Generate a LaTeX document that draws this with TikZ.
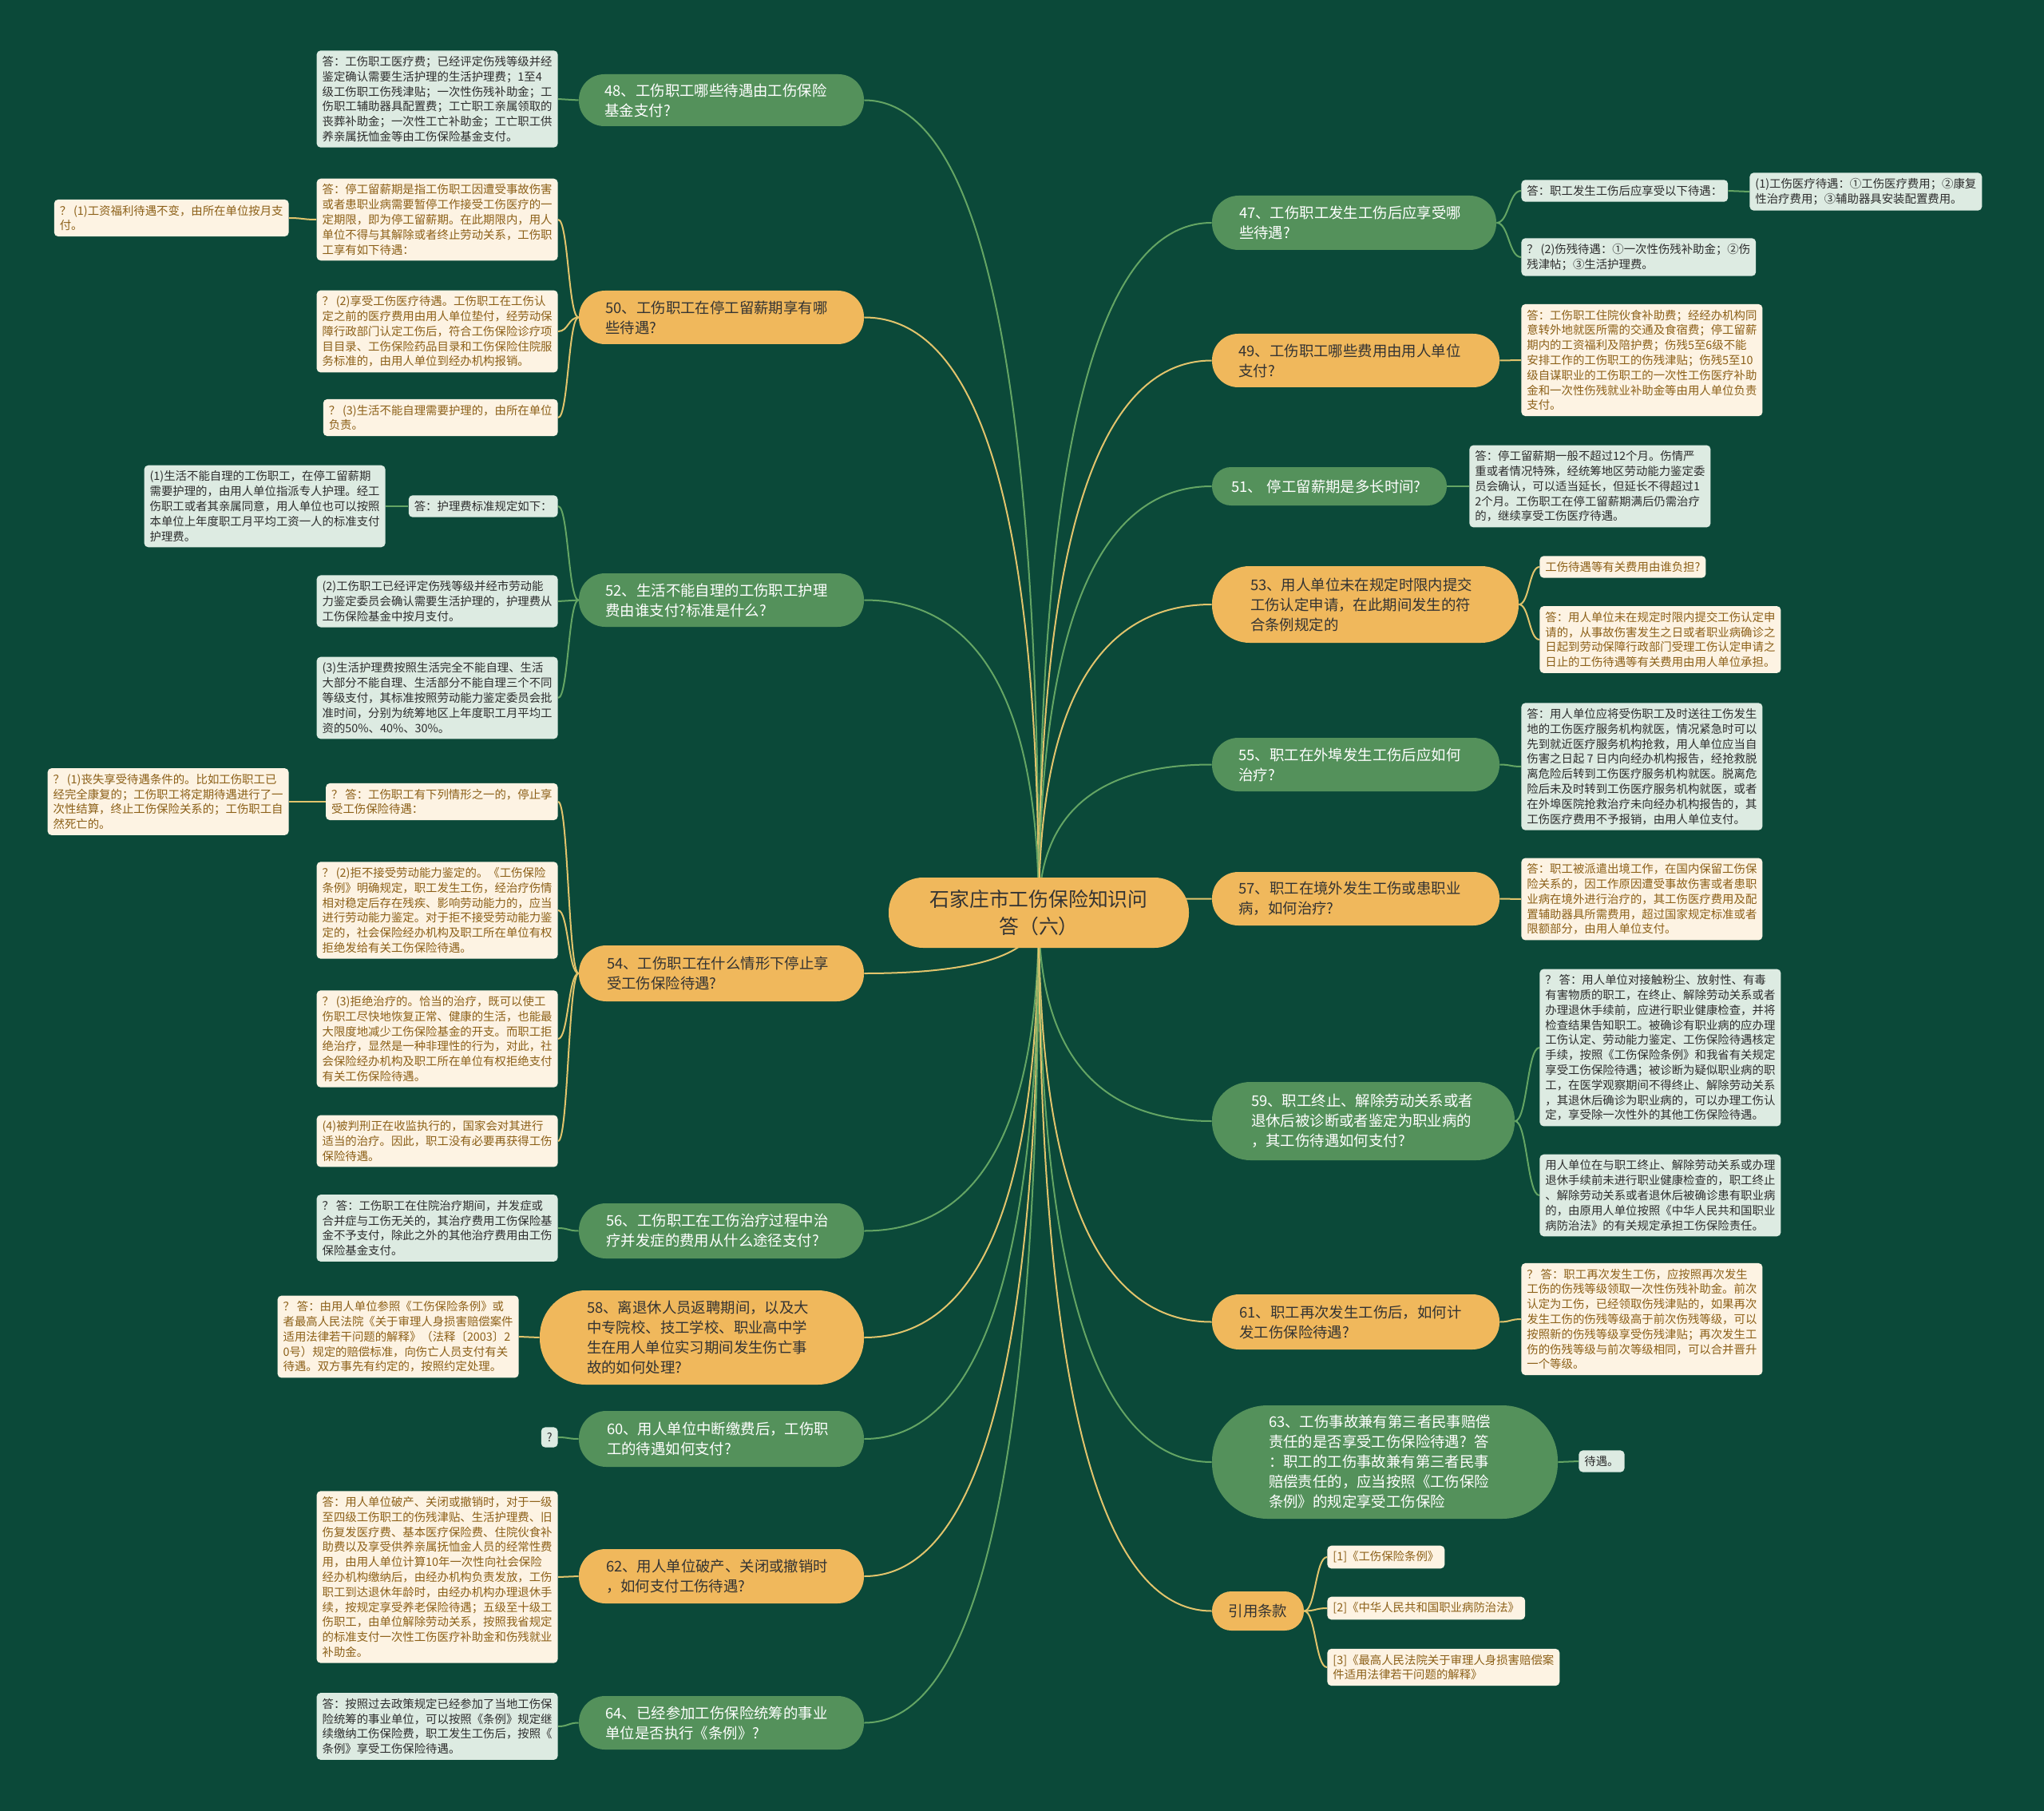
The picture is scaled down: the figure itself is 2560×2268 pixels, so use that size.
\documentclass[tikz,border=0pt]{standalone}
\usepackage{fontspec}
\setmainfont{Noto Sans CJK SC}
\usetikzlibrary{calc}
\definecolor{bgc}{RGB}{11,73,57}
\definecolor{pillgreen}{RGB}{84,145,91}
\definecolor{pillorange}{RGB}{240,184,92}
\definecolor{pilltext}{RGB}{51,51,51}
\definecolor{linegreen}{RGB}{100,165,100}
\definecolor{lineyellow}{RGB}{226,196,108}
\definecolor{leafgreen}{RGB}{221,235,226}
\definecolor{leafgtext}{RGB}{45,45,45}
\definecolor{leafcream}{RGB}{253,243,227}
\definecolor{leafctext}{RGB}{140,96,24}
\newcommand\leaffont{\fontsize{7.2}{9.4}\selectfont}
\newcommand\pillfont{\fontsize{9.2}{12.5}\selectfont}
\newcommand\rootfont{\fontsize{12.4}{17}\selectfont}
\newcommand\qm{？\hspace{0.2em}}
\pgfdeclarelayer{background}
\pgfsetlayers{background,main}
\tikzset{
  lg/.style={fill=leafgreen, text=leafgtext, rounded corners=2.5pt, inner xsep=3.5pt, inner ysep=3.5pt, align=left, font=\leaffont},
  lc/.style={fill=leafcream, text=leafctext, rounded corners=2.5pt, inner xsep=3.5pt, inner ysep=3.5pt, align=left, font=\leaffont},
  onL/.style={anchor=east},
  onR/.style={anchor=west},
  gp/.style={fill=pillgreen, text=white, inner sep=0pt, align=left, font=\pillfont},
  op/.style={fill=pillorange, text=pilltext, inner sep=0pt, align=left, font=\pillfont},
  gl/.style={draw=linegreen, line width=1pt},
  yl/.style={draw=lineyellow, line width=1pt},
}
\newcommand\mmpill[7]{%
  \pgfmathsetmacro\mmw{(#5-#3)*0.5}%
  \pgfmathsetmacro\mmh{(#6-#4)*0.5}%
  \pgfmathsetmacro\mmt{(#5-#3-#6+#4)*0.5}%
  \pgfmathsetmacro\mmr{(#6-#4)*0.245}%
  \pgfmathsetmacro\mmx{(#3+#5)/2}%
  \pgfmathsetmacro\mmy{(#4+#6)/2}%
  \node[#1, minimum width=\mmw pt, minimum height=\mmh pt, text width=\mmt pt, rounded corners=\mmr pt] (#2) at (\mmx,\mmy) {#7};%
}
\newcommand\rootlink[2]{%
  \path (root.center |- #2) coordinate (mmc);%
  \draw[#1] (root.center) .. controls ($(root.center)!0.667!(mmc)$) and ($(#2)!0.667!(mmc)$) .. (#2);%
}
\newcommand\brL[3]{%
  \path ($(#2.west)!0.5!(#3.east)$) coordinate (mmm);%
  \draw[#1] (#2.west) .. controls (mmm |- #2.west) and (mmm |- #3.east) .. (#3.east);%
}
\newcommand\brR[3]{%
  \path ($(#2.east)!0.5!(#3.west)$) coordinate (mmm);%
  \draw[#1] (#2.east) .. controls (mmm |- #2.east) and (mmm |- #3.west) .. (#3.west);%
}
\begin{document}
\begin{tikzpicture}[x=0.5pt,y=-0.5pt]
\useasboundingbox (0,0) rectangle (2560,2268);
\begin{pgfonlayer}{background}
\fill[bgc] (0,0) rectangle (2560,2268);
\end{pgfonlayer}

% root
\node[fill=pillorange, text=pilltext, font=\rootfont, align=center, minimum width=188pt, minimum height=44pt, rounded corners=21.5pt, inner sep=0pt] (root) at (1301,1143) {石家庄市工伤保险知识问\\答（六）};

% left branches
\mmpill{gp}{b48}{725}{93}{1082}{158}{48、工伤职工哪些待遇由工伤保险\\基金支付?}
\mmpill{op}{b50}{725}{364}{1082}{431}{50、工伤职工在停工留薪期享有哪\\些待遇?}
\mmpill{gp}{b52}{725}{718}{1082}{785}{52、生活不能自理的工伤职工护理\\费由谁支付?标准是什么?}
\mmpill{op}{b54}{725}{1184}{1082}{1254}{54、工伤职工在什么情形下停止享\\受工伤保险待遇?}
\mmpill{gp}{b56}{725}{1507}{1082}{1576}{56、工伤职工在工伤治疗过程中治\\疗并发症的费用从什么途径支付?}
\mmpill{op}{b58}{676}{1616}{1082}{1734}{58、离退休人员返聘期间，以及大\\中专院校、技工学校、职业高中学\\生在用人单位实习期间发生伤亡事\\故的如何处理?}
\mmpill{gp}{b60}{725}{1767}{1082}{1837}{60、用人单位中断缴费后，工伤职\\工的待遇如何支付?}
\mmpill{op}{b62}{725}{1940}{1082}{2008}{62、用人单位破产、关闭或撤销时\\，如何支付工伤待遇?}
\mmpill{gp}{b64}{725}{2124}{1082}{2191}{64、已经参加工伤保险统筹的事业\\单位是否执行《条例》?}

% right branches
\mmpill{gp}{b47}{1518}{245}{1874}{313}{47、工伤职工发生工伤后应享受哪\\些待遇?}
\mmpill{op}{b49}{1518}{418}{1878}{485}{49、工伤职工哪些费用由用人单位\\支付?}
\mmpill{gp}{b51}{1518}{585}{1812}{633}{51、 停工留薪期是多长时间?}
\mmpill{op}{b53}{1518}{709}{1902}{805}{53、用人单位未在规定时限内提交\\工伤认定申请，在此期间发生的符\\合条例规定的}
\mmpill{gp}{b55}{1518}{924}{1878}{991}{55、职工在外埠发生工伤后应如何\\治疗?}
\mmpill{op}{b57}{1518}{1092}{1878}{1159}{57、职工在境外发生工伤或患职业\\病，如何治疗?}
\mmpill{gp}{b59}{1518}{1355}{1897}{1453}{59、职工终止、解除劳动关系或者\\退休后被诊断或者鉴定为职业病的\\，其工伤待遇如何支付?}
\mmpill{op}{b61}{1518}{1621}{1878}{1690}{61、职工再次发生工伤后，如何计\\发工伤保险待遇?}
\mmpill{gp}{b63}{1518}{1760}{1951}{1902}{63、工伤事故兼有第三者民事赔偿\\责任的是否享受工伤保险待遇? 答\\：职工的工伤事故兼有第三者民事\\赔偿责任的，应当按照《工伤保险\\条例》的规定享受工伤保险}
\node[op, align=center, minimum width=57.5pt, minimum height=24.5pt, rounded corners=12pt] (cite) at (1575.5,2017.5) {引用条款};

% left leaves
\node[lg,onL] (l48a) at (699,124) {答：工伤职工医疗费；已经评定伤残等级并经\\鉴定确认需要生活护理的生活护理费；1至4\\级工伤职工伤残津贴；一次性伤残补助金；工\\伤职工辅助器具配置费；工亡职工亲属领取的\\丧葬补助金；一次性工亡补助金；工亡职工供\\养亲属抚恤金等由工伤保险基金支付。};
\node[lc,onL] (l50a) at (699,275) {答：停工留薪期是指工伤职工因遭受事故伤害\\或者患职业病需要暂停工作接受工伤医疗的一\\定期限，即为停工留薪期。在此期限内，用人\\单位不得与其解除或者终止劳动关系，工伤职\\工享有如下待遇：};
\node[lc,onL] (l50ac) at (362,273) {\qm(1)工资福利待遇不变，由所在单位按月支\\付。};
\node[lc,onL] (l50b) at (699,415) {\qm(2)享受工伤医疗待遇。工伤职工在工伤认\\定之前的医疗费用由用人单位垫付，经劳动保\\障行政部门认定工伤后，符合工伤保险诊疗项\\目目录、工伤保险药品目录和工伤保险住院服\\务标准的，由用人单位到经办机构报销。};
\node[lc,onL] (l50c) at (699,523) {\qm(3)生活不能自理需要护理的，由所在单位\\负责。};
\node[lg,onL] (l52a) at (699,634) {答：护理费标准规定如下：};
\node[lg,onL] (l52ac) at (483,634) {(1)生活不能自理的工伤职工，在停工留薪期\\需要护理的，由用人单位指派专人护理。经工\\伤职工或者其亲属同意，用人单位也可以按照\\本单位上年度职工月平均工资一人的标准支付\\护理费。};
\node[lg,onL] (l52b) at (699,753) {(2)工伤职工已经评定伤残等级并经市劳动能\\力鉴定委员会确认需要生活护理的，护理费从\\工伤保险基金中按月支付。};
\node[lg,onL] (l52c) at (699,874) {(3)生活护理费按照生活完全不能自理、生活\\大部分不能自理、生活部分不能自理三个不同\\等级支付，其标准按照劳动能力鉴定委员会批\\准时间，分别为统筹地区上年度职工月平均工\\资的50\%、40\%、30\%。};
\node[lc,onL] (l54a) at (699,1004) {\qm 答：工伤职工有下列情形之一的，停止享\\受工伤保险待遇：};
\node[lc,onL] (l54ac) at (362,1004) {\qm(1)丧失享受待遇条件的。比如工伤职工已\\经完全康复的；工伤职工将定期待遇进行了一\\次性结算，终止工伤保险关系的；工伤职工自\\然死亡的。};
\node[lc,onL] (l54b) at (699,1140) {\qm(2)拒不接受劳动能力鉴定的。《工伤保险\\条例》明确规定，职工发生工伤，经治疗伤情\\相对稳定后存在残疾、影响劳动能力的，应当\\进行劳动能力鉴定。对于拒不接受劳动能力鉴\\定的，社会保险经办机构及职工所在单位有权\\拒绝发给有关工伤保险待遇。};
\node[lc,onL] (l54c) at (699,1301) {\qm(3)拒绝治疗的。恰当的治疗，既可以使工\\伤职工尽快地恢复正常、健康的生活，也能最\\大限度地减少工伤保险基金的开支。而职工拒\\绝治疗，显然是一种非理性的行为，对此，社\\会保险经办机构及职工所在单位有权拒绝支付\\有关工伤保险待遇。};
\node[lc,onL] (l54d) at (699,1429) {(4)被判刑正在收监执行的，国家会对其进行\\适当的治疗。因此，职工没有必要再获得工伤\\保险待遇。};
\node[lg,onL] (l56a) at (699,1538) {\qm 答：工伤职工在住院治疗期间，并发症或\\合并症与工伤无关的，其治疗费用工伤保险基\\金不予支付，除此之外的其他治疗费用由工伤\\保险基金支付。};
\node[lc,onL] (l58a) at (650,1674) {\qm 答：由用人单位参照《工伤保险条例》或\\者最高人民法院《关于审理人身损害赔偿案件\\适用法律若干问题的解释》（法释〔2003〕2\\0号）规定的赔偿标准，向伤亡人员支付有关\\待遇。双方事先有约定的，按照约定处理。};
\node[lg,onL] (l60a) at (699,1800) {?};
\node[lc,onL] (l62a) at (699,1975) {答：用人单位破产、关闭或撤销时，对于一级\\至四级工伤职工的伤残津贴、生活护理费、旧\\伤复发医疗费、基本医疗保险费、住院伙食补\\助费以及享受供养亲属抚恤金人员的经常性费\\用，由用人单位计算10年一次性向社会保险\\经办机构缴纳后，由经办机构负责发放，工伤\\职工到达退休年龄时，由经办机构办理退休手\\续，按规定享受养老保险待遇；五级至十级工\\伤职工，由单位解除劳动关系，按照我省规定\\的标准支付一次性工伤医疗补助金和伤残就业\\补助金。};
\node[lg,onL] (l64a) at (699,2162) {答：按照过去政策规定已经参加了当地工伤保\\险统筹的事业单位，可以按照《条例》规定继\\续缴纳工伤保险费，职工发生工伤后，按照《\\条例》享受工伤保险待遇。};

% right leaves
\node[lg,onR] (r47a) at (1905,239) {答：职工发生工伤后应享受以下待遇：};
\node[lg,onR] (r47ac) at (2191,240) {(1)工伤医疗待遇：①工伤医疗费用；②康复\\性治疗费用；③辅助器具安装配置费用。};
\node[lg,onR] (r47b) at (1905,322) {\qm(2)伤残待遇：①一次性伤残补助金；②伤\\残津帖；③生活护理费。};
\node[lc,onR] (r49a) at (1905,451) {答：工伤职工住院伙食补助费；经经办机构同\\意转外地就医所需的交通及食宿费；停工留薪\\期内的工资福利及陪护费；伤残5至6级不能\\安排工作的工伤职工的伤残津贴；伤残5至10\\级自谋职业的工伤职工的一次性工伤医疗补助\\金和一次性伤残就业补助金等由用人单位负责\\支付。};
\node[lg,onR] (r51a) at (1840,609) {答：停工留薪期一般不超过12个月。伤情严\\重或者情况特殊，经统筹地区劳动能力鉴定委\\员会确认，可以适当延长，但延长不得超过1\\2个月。工伤职工在停工留薪期满后仍需治疗\\的，继续享受工伤医疗待遇。};
\node[lc,onR] (r53a) at (1928,710) {工伤待遇等有关费用由谁负担?};
\node[lc,onR] (r53b) at (1928,801) {答：用人单位未在规定时限内提交工伤认定申\\请的，从事故伤害发生之日或者职业病确诊之\\日起到劳动保障行政部门受理工伤认定申请之\\日止的工伤待遇等有关费用由用人单位承担。};
\node[lg,onR] (r55a) at (1905,960) {答：用人单位应将受伤职工及时送往工伤发生\\地的工伤医疗服务机构就医，情况紧急时可以\\先到就近医疗服务机构抢救，用人单位应当自\\伤害之日起 7 日内向经办机构报告，经抢救脱\\离危险后转到工伤医疗服务机构就医。脱离危\\险后未及时转到工伤医疗服务机构就医，或者\\在外埠医院抢救治疗未向经办机构报告的，其\\工伤医疗费用不予报销，由用人单位支付。};
\node[lc,onR] (r57a) at (1905,1126) {答：职工被派遣出境工作，在国内保留工伤保\\险关系的，因工作原因遭受事故伤害或者患职\\业病在境外进行治疗的，其工伤医疗费用及配\\置辅助器具所需费用，超过国家规定标准或者\\限额部分，由用人单位支付。};
\node[lg,onR] (r59a) at (1928,1312) {\qm 答：用人单位对接触粉尘、放射性、有毒\\有害物质的职工，在终止、解除劳动关系或者\\办理退休手续前，应进行职业健康检查，并将\\检查结果告知职工。被确诊有职业病的应办理\\工伤认定、劳动能力鉴定、工伤保险待遇核定\\手续，按照《工伤保险条例》和我省有关规定\\享受工伤保险待遇；被诊断为疑似职业病的职\\工，在医学观察期间不得终止、解除劳动关系\\，其退休后确诊为职业病的，可以办理工伤认\\定，享受除一次性外的其他工伤保险待遇。};
\node[lg,onR] (r59b) at (1928,1497) {用人单位在与职工终止、解除劳动关系或办理\\退休手续前未进行职业健康检查的，职工终止\\、解除劳动关系或者退休后被确诊患有职业病\\的，由原用人单位按照《中华人民共和国职业\\病防治法》的有关规定承担工伤保险责任。};
\node[lc,onR] (r61a) at (1905,1652) {\qm 答：职工再次发生工伤，应按照再次发生\\工伤的伤残等级领取一次性伤残补助金。前次\\认定为工伤，已经领取伤残津贴的，如果再次\\发生工伤的伤残等级高于前次伤残等级，可以\\按照新的伤残等级享受伤残津贴；再次发生工\\伤的伤残等级与前次等级相同，可以合并晋升\\一个等级。};
\node[lg,onR] (r63a) at (1977,1830) {待遇。};
\node[lc,onR] (c1) at (1662,1950) {[1]《工伤保险条例》};
\node[lc,onR] (c2) at (1662,2014) {[2]《中华人民共和国职业病防治法》};
\node[lc,onR] (c3) at (1662,2088) {[3]《最高人民法院关于审理人身损害赔偿案\\件适用法律若干问题的解释》};

% connectors
\begin{pgfonlayer}{background}
\rootlink{gl}{b48.east}
\rootlink{yl}{b50.east}
\rootlink{gl}{b52.east}
\rootlink{yl}{b54.east}
\rootlink{gl}{b56.east}
\rootlink{yl}{b58.east}
\rootlink{gl}{b60.east}
\rootlink{yl}{b62.east}
\rootlink{gl}{b64.east}
\rootlink{gl}{b47.west}
\rootlink{yl}{b49.west}
\rootlink{gl}{b51.west}
\rootlink{yl}{b53.west}
\rootlink{gl}{b55.west}
\rootlink{yl}{b57.west}
\rootlink{gl}{b59.west}
\rootlink{yl}{b61.west}
\rootlink{gl}{b63.west}
\rootlink{yl}{cite.west}

\brL{gl}{b48}{l48a}
\brL{yl}{b50}{l50a}
\brL{yl}{b50}{l50b}
\brL{yl}{b50}{l50c}
\brL{yl}{l50a}{l50ac}
\brL{gl}{b52}{l52a}
\brL{gl}{b52}{l52b}
\brL{gl}{b52}{l52c}
\brL{gl}{l52a}{l52ac}
\brL{yl}{b54}{l54a}
\brL{yl}{b54}{l54b}
\brL{yl}{b54}{l54c}
\brL{yl}{b54}{l54d}
\brL{yl}{l54a}{l54ac}
\brL{gl}{b56}{l56a}
\brL{yl}{b58}{l58a}
\brL{gl}{b60}{l60a}
\brL{yl}{b62}{l62a}
\brL{gl}{b64}{l64a}

\brR{gl}{b47}{r47a}
\brR{gl}{b47}{r47b}
\brR{gl}{r47a}{r47ac}
\brR{yl}{b49}{r49a}
\brR{gl}{b51}{r51a}
\brR{yl}{b53}{r53a}
\brR{yl}{b53}{r53b}
\brR{gl}{b55}{r55a}
\brR{yl}{b57}{r57a}
\brR{gl}{b59}{r59a}
\brR{gl}{b59}{r59b}
\brR{yl}{b61}{r61a}
\brR{gl}{b63}{r63a}
\brR{yl}{cite}{c1}
\brR{yl}{cite}{c2}
\brR{yl}{cite}{c3}
\end{pgfonlayer}
\end{tikzpicture}
\end{document}
